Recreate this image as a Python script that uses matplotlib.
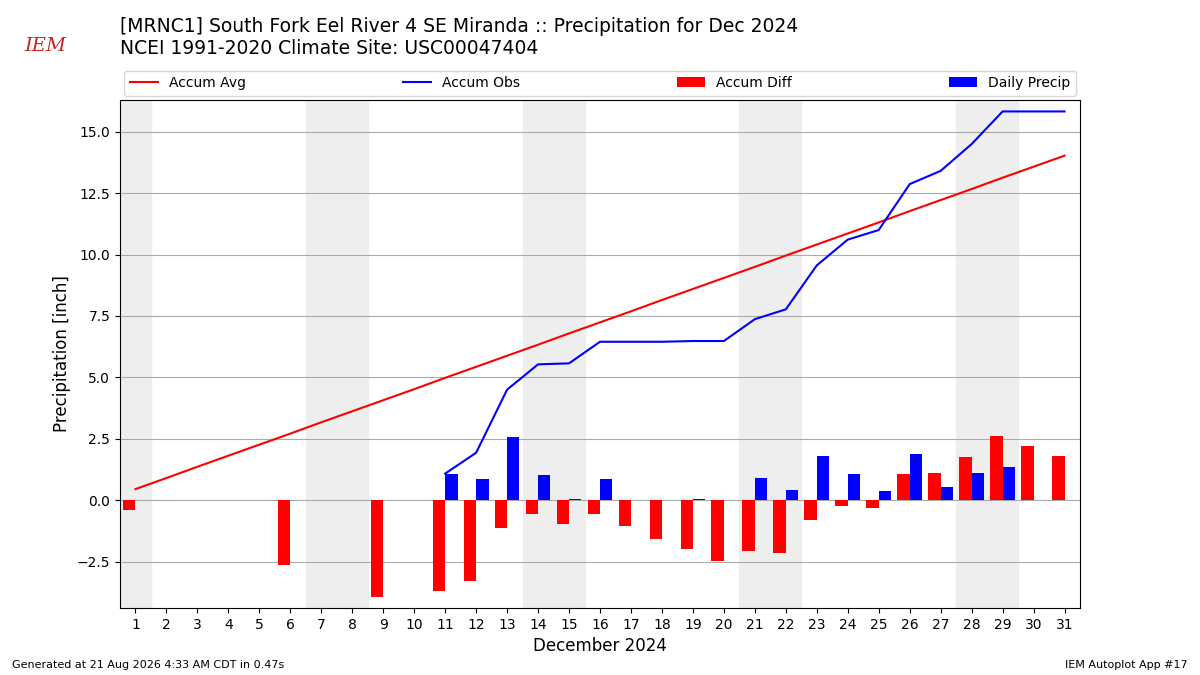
"""Recreate IEM monthly precipitation accumulation chart for MRNC1, Dec 2024."""
import matplotlib as mpl
import matplotlib.pyplot as plt
import numpy as np

mpl.rcParams.update({
    "font.family": "DejaVu Sans", "font.size": 10,
    "axes.linewidth": 0.8,
})

DAYS = list(range(1, 32))
ACCUM_AVG = [0.45, 0.90, 1.36, 1.81, 2.26, 2.71, 3.17, 3.62, 4.07, 4.52,
             4.98, 5.43, 5.88, 6.33, 6.79, 7.24, 7.69, 8.15, 8.60, 9.05,
             9.50, 9.96, 10.41, 10.86, 11.31, 11.77, 12.22, 12.67, 13.13, 13.58, 14.03]
OBS_DAYS = list(range(11, 32))
ACCUM_OBS = [1.08, 1.93, 4.50, 5.53, 5.57, 6.45, 6.45, 6.45, 6.48, 6.48,
             7.37, 7.77, 9.56, 10.61, 11.00, 12.87, 13.41, 14.50, 15.83, 15.83, 15.83]
PRECIP_DAYS = [11, 12, 13, 14, 15, 16, 19, 21, 22, 23, 24, 25, 26, 27, 28, 29]
DAILY_PRECIP = [1.08, 0.85, 2.57, 1.03, 0.04, 0.88, 0.03, 0.89, 0.40, 1.79,
                1.05, 0.39, 1.87, 0.54, 1.09, 1.33]
DIFF_DAYS = [1, 6, 9, 11, 12, 13, 14, 15, 16, 17, 18, 19, 20, 21, 22, 23, 24,
             25, 26, 27, 28, 29, 30, 31]
ACCUM_DIFF = [-0.40, -2.65, -3.95, -3.70, -3.30, -1.15, -0.58, -0.98, -0.57,
              -1.07, -1.58, -2.00, -2.47, -2.07, -2.17, -0.82, -0.25, -0.32,
              1.05, 1.12, 1.75, 2.60, 2.20, 1.80]
WEEKENDS = [(0.5, 1.5), (6.5, 8.5), (13.5, 15.5), (20.5, 22.5), (27.5, 29.5)]


def main() -> None:
    fig = plt.figure(figsize=(12, 6.75), dpi=100)
    ax = fig.add_axes([0.1, 0.099, 0.8, 0.753])

    for lo, hi in WEEKENDS:
        ax.axvspan(lo, hi, color="#eeeeee", zorder=0)

    ax.plot(DAYS, ACCUM_AVG, color="red", lw=1.5, label="Accum Avg", zorder=3)
    ax.plot(OBS_DAYS, ACCUM_OBS, color="blue", lw=1.5, label="Accum Obs", zorder=3)
    ax.bar(np.array(DIFF_DAYS) - 0.2, ACCUM_DIFF, width=0.4, color="red",
           label="Accum Diff", zorder=2)
    ax.bar(np.array(PRECIP_DAYS) + 0.2, DAILY_PRECIP, width=0.4, color="blue",
           label="Daily Precip", zorder=2)

    ax.set_xlim(0.5, 31.5)
    ax.set_ylim(-4.4, 16.3)
    ax.set_xticks(DAYS)
    ax.set_yticks([-2.5, 0, 2.5, 5, 7.5, 10, 12.5, 15])
    ax.yaxis.grid(True, color="#aaaaaa", lw=0.8)
    ax.set_axisbelow(True)
    ax.set_xlabel("December 2024", fontsize=12)
    ax.set_ylabel("Precipitation [inch]", fontsize=12)
    ax.legend(ncol=4, loc="lower left", bbox_to_anchor=(0, 1.0, 1, 0.1),
              mode="expand", fontsize=10, borderaxespad=0.3)

    fig.text(0.1, 0.975, "[MRNC1] South Fork Eel River 4 SE Miranda :: Precipitation for Dec 2024",
             fontsize=13.5, va="top")
    fig.text(0.1, 0.942, "NCEI 1991-2020 Climate Site: USC00047404", fontsize=13.5, va="top")
    fig.text(0.02, 0.925, "IEM", fontsize=14, color="#cc2222", style="italic", family="serif")
    fig.text(0.01, 0.01, "Generated at 21 Aug 2026 4:33 AM CDT in 0.47s", fontsize=8)
    fig.text(0.99, 0.01, "IEM Autoplot App #17", fontsize=8, ha="right")

    fig.savefig("out.png", dpi=100)
    plt.close(fig)


if __name__ == "__main__":
    main()
